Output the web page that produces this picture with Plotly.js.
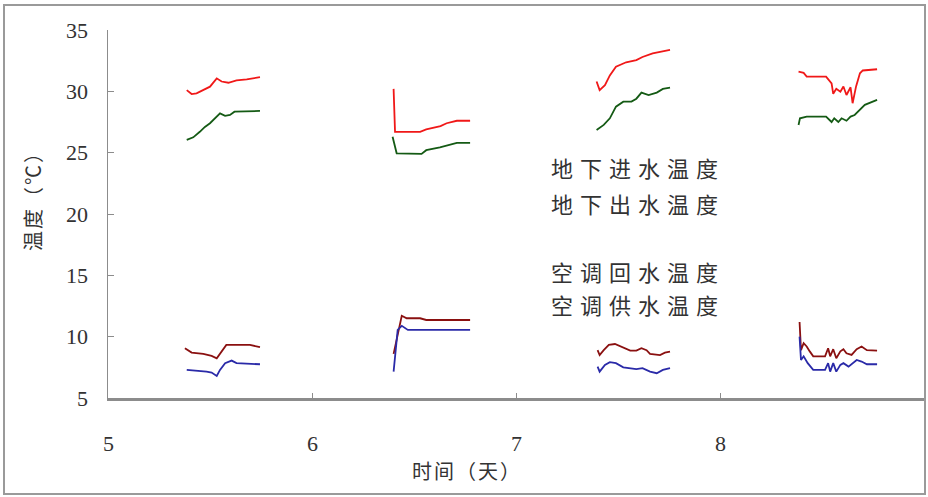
<!DOCTYPE html>
<html>
<head>
<meta charset="utf-8">
<script src="https://cdn.plot.ly/plotly-3.0.1.min.js"></script>
<style>
  @font-face { font-family: 'TickSerif';
    src: local('Liberation Serif'), local('LiberationSerif'), local('LiberationSerif-Regular'),
         local('Times New Roman'), local('DejaVu Serif'), local('DejaVuSerif'); }
  html, body { margin: 0; padding: 0; background: #fff; }
  #wrap { position: relative; width: 928px; height: 497px; }
  #chart { width: 928px; height: 497px; }
  #frame { position: absolute; left: 3px; top: 4px; width: 919px; height: 487px;
           border: 2px solid #9a9a9a; pointer-events: none; }
  .legtext text { letter-spacing: 7px; }
  .xtitle text { letter-spacing: 2px; }
  .ytitle text { letter-spacing: 2px; }
</style>
</head>
<body>
<div id="wrap">
  <div id="chart"></div>
  <div id="frame"></div>
</div>
<script>
// Series names (legend text)
const seriesNames = ["地下进水温度", "地下出水温度", "空调回水温度", "空调供水温度"];
const xTitle = "时间（天）";
const yTitle = "温度（℃）";
const xTicks = [5, 6, 7, 8];
const yTicks = [5, 10, 15, 20, 25, 30, 35];

// 地下进水温度 (red)
const inGroundX = [5.386,5.41,5.434,5.466,5.5,5.533,5.557,5.59,5.63,5.68,5.745, null,
  6.40,6.407,6.53,6.56,6.63,6.66,6.71,6.775, null,
  7.395,7.41,7.436,7.46,7.49,7.54,7.59,7.62,7.67,7.71,7.755, null,
  8.385,8.41,8.425,8.52,8.547,8.555,8.57,8.59,8.605,8.62,8.64,8.65,8.667,8.686,8.70,8.77];
const inGroundY = [30.1,29.78,29.84,30.1,30.38,31.06,30.8,30.7,30.9,30.98,31.15, null,
  30.2,26.7,26.7,26.9,27.17,27.4,27.6,27.6, null,
  30.8,30.1,30.5,31.3,32.0,32.37,32.55,32.8,33.1,33.23,33.37, null,
  31.6,31.5,31.2,31.2,30.65,29.8,30.2,29.97,30.4,29.7,30.33,29.03,30.4,31.47,31.7,31.8];

// 地下出水温度 (green)
const outGroundX = [5.386,5.418,5.45,5.475,5.5,5.525,5.549,5.574,5.598,5.62,5.68,5.745, null,
  6.395,6.415,6.537,6.56,6.627,6.71,6.775, null,
  7.395,7.43,7.46,7.49,7.526,7.566,7.59,7.615,7.65,7.69,7.72,7.755, null,
  8.385,8.392,8.425,8.52,8.547,8.56,8.58,8.596,8.62,8.64,8.66,8.686,8.71,8.77];
const outGroundY = [26.04,26.25,26.7,27.1,27.4,27.8,28.2,28.0,28.07,28.34,28.34,28.4, null,
  26.3,24.95,24.9,25.2,25.44,25.8,25.8, null,
  26.85,27.26,27.8,28.75,29.16,29.16,29.4,29.9,29.7,29.9,30.2,30.3, null,
  27.26,27.8,27.94,27.94,27.5,27.8,27.5,27.8,27.6,27.94,28.07,28.48,28.9,29.3];

// 空调回水温度 (dark red)
const returnX = [5.377,5.41,5.467,5.508,5.533,5.557,5.58,5.63,5.696,5.745, null,
  6.40,6.44,6.464,6.53,6.56,6.775, null,
  7.40,7.41,7.43,7.455,7.485,7.526,7.56,7.59,7.615,7.64,7.657,7.706,7.73,7.755, null,
  8.39,8.397,8.41,8.425,8.44,8.457,8.515,8.53,8.54,8.555,8.57,8.59,8.605,8.62,8.645,8.67,8.694,8.72,8.77];
const returnY = [9.06,8.7,8.6,8.43,8.24,8.78,9.33,9.33,9.33,9.14, null,
  8.6,11.7,11.5,11.5,11.36,11.36, null,
  8.9,8.5,8.9,9.33,9.4,9.14,8.86,8.86,9.06,8.9,8.6,8.5,8.7,8.78, null,
  11.2,8.9,9.47,9.2,8.8,8.4,8.4,9.06,8.4,8.98,8.24,8.8,8.98,8.65,8.51,8.98,9.2,8.9,8.86];

// 空调供水温度 (blue)
const supplyX = [5.386,5.434,5.483,5.508,5.533,5.549,5.574,5.606,5.63,5.745, null,
  6.40,6.42,6.44,6.47,6.775, null,
  7.40,7.41,7.436,7.46,7.49,7.526,7.59,7.62,7.657,7.69,7.72,7.755, null,
  8.39,8.397,8.41,8.43,8.457,8.515,8.53,8.54,8.555,8.57,8.59,8.605,8.63,8.65,8.67,8.694,8.72,8.77];
const supplyY = [7.29,7.23,7.15,7.07,6.8,7.29,7.84,8.05,7.84,7.75, null,
  7.15,10.55,10.88,10.55,10.55, null,
  7.56,7.15,7.7,7.92,7.84,7.5,7.35,7.43,7.15,7.02,7.29,7.43, null,
  10.0,8.1,8.4,7.84,7.29,7.29,7.84,7.15,7.84,7.15,7.7,7.84,7.56,7.84,8.1,7.97,7.75,7.75];

const colors = ["#f01818", "#145a14", "#8a1010", "#2a2aa8"];
const xs = [inGroundX, outGroundX, returnX, supplyX];
const ys = [inGroundY, outGroundY, returnY, supplyY];

const traces = seriesNames.map((n, i) => ({
  type: "scatter", mode: "lines", name: n,
  x: xs[i], y: ys[i], connectgaps: false,
  line: { color: colors[i], width: 1.8 },
  showlegend: false
}));

const cjk = "Noto Sans CJK SC";
const tickFamily = "TickSerif, Liberation Serif, serif";
const L = 108, R = 4, T = 30, B = 99, W = 928, H = 497;
const pw = W - L - R, ph = H - T - B;
const px2x = p => (p - L) / pw;
const px2y = p => (H - B - p) / ph;

const legendPy = [167, 203, 271, 304];
const annotations = seriesNames.map((n, i) => ({
  text: n, x: px2x(638), y: px2y(legendPy[i]), xref: "paper", yref: "paper",
  xanchor: "center", yanchor: "middle", showarrow: false,
  font: { family: cjk, size: 22, color: "#333" }
}));
annotations.push({
  text: xTitle, x: px2x(467), y: px2y(470), xref: "paper", yref: "paper",
  xanchor: "center", yanchor: "middle",
  showarrow: false, font: { family: cjk, size: 20, color: "#333" }
});
annotations.push({
  text: yTitle, textangle: -90, x: px2x(32), y: px2y(196), xref: "paper", yref: "paper",
  xanchor: "center", yanchor: "middle",
  showarrow: false, font: { family: cjk, size: 20, color: "#333" }
});

const layout = {
  width: W, height: H,
  margin: { l: L, r: R, t: T, b: B },
  paper_bgcolor: "#fff", plot_bgcolor: "#fff",
  showlegend: false,
  font: { family: tickFamily, size: 22, color: "#333" },
  xaxis: {
    range: [5, 9], tickvals: xTicks, ticktext: xTicks.map(String),
    showgrid: false, zeroline: false, showline: true,
    linecolor: "#8c8c8c", linewidth: 2.5,
    ticks: "inside", ticklen: 5, tickcolor: "#8c8c8c",
    ticklabelstandoff: 24,
    tickfont: { family: tickFamily, size: 22, color: "#333" }
  },
  yaxis: {
    range: [5, 35], tickvals: yTicks, ticktext: yTicks.map(String),
    showgrid: false, zeroline: false, showline: true,
    linecolor: "#8c8c8c", linewidth: 1.5,
    ticks: "inside", ticklen: 6, tickcolor: "#8c8c8c",
    ticklabelstandoff: 14,
    tickfont: { family: tickFamily, size: 22, color: "#333" }
  },
  annotations: annotations
};

document.fonts.load("22px TickSerif").catch(() => {}).then(() => {
  Plotly.newPlot("chart", traces, layout, { displayModeBar: false, staticPlot: true }).then(() => {
    document.querySelectorAll(".annotation").forEach((g, i) => {
      if (i < 4) g.classList.add("legtext");
      if (i === 4) g.classList.add("xtitle");
      if (i === 5) g.classList.add("ytitle");
    });
  });
});
</script>
</body>
</html>
